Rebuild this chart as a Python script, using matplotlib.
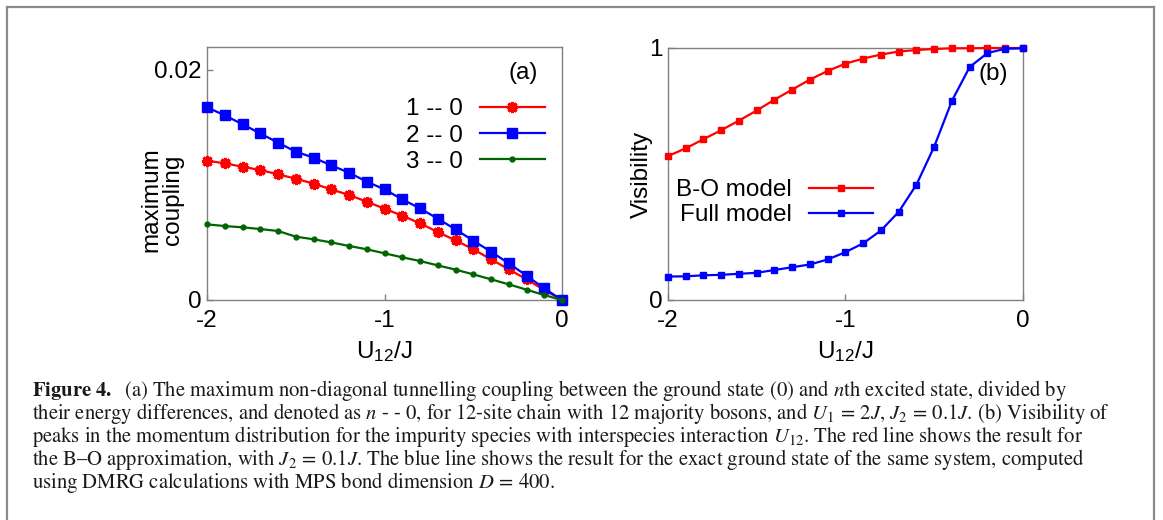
import matplotlib
matplotlib.use("Agg")
import matplotlib.pyplot as plt
import numpy as np
from matplotlib.lines import Line2D

plt.rcParams["font.family"] = ["Liberation Sans", "DejaVu Sans"]
plt.rcParams["mathtext.fontset"] = "custom"
plt.rcParams["mathtext.rm"] = "Liberation Sans"
plt.rcParams["mathtext.default"] = "regular"

# U12/J values (shared by both panels)
u12 = np.round(np.arange(-2.0, 0.01, 0.1), 2)

# panel (a): maximum coupling
coupling_10 = [0.01212, 0.01188, 0.01159, 0.01130, 0.01093, 0.01055, 0.01012,
               0.00962, 0.00913, 0.00855, 0.00794, 0.00733, 0.00667, 0.00591,
               0.00519, 0.00441, 0.00354, 0.00267, 0.00180, 0.00087, 0.0]
coupling_20 = [0.01675, 0.01606, 0.01528, 0.01449, 0.01368, 0.01290, 0.01238,
               0.01171, 0.01107, 0.01029, 0.00962, 0.00875, 0.00797, 0.00707,
               0.00614, 0.00516, 0.00420, 0.00319, 0.00212, 0.00101, 0.0]
coupling_30 = [0.00658, 0.00643, 0.00632, 0.00617, 0.00600, 0.00551, 0.00528,
               0.00501, 0.00470, 0.00441, 0.00406, 0.00371, 0.00339, 0.00301,
               0.00264, 0.00223, 0.00180, 0.00136, 0.00090, 0.00043, 0.0]

# panel (b): visibility
vis_bo = [0.571, 0.602, 0.638, 0.674, 0.712, 0.752, 0.795, 0.835, 0.875,
          0.909, 0.938, 0.958, 0.974, 0.986, 0.992, 0.996, 0.999, 0.999,
          1.0, 1.0, 1.0]
vis_full = [0.093, 0.094, 0.098, 0.100, 0.104, 0.108, 0.119, 0.130, 0.141,
            0.161, 0.190, 0.225, 0.276, 0.350, 0.458, 0.609, 0.791, 0.925,
            0.980, 0.997, 0.999]

caption = [
    r"$\mathbf{Figure\ 4.}$  (a) The maximum non-diagonal tunnelling coupling between the ground state (0) and $\mathit{n}$th excited state, divided by",
    r"their energy differences, and denoted as $\mathit{n}$ - - 0, for 12-site chain with 12 majority bosons, and $\mathit{U}_1\,=\,2\mathit{J}$, $\mathit{J}_2\,=\,0.1\mathit{J}$. (b) Visibility of",
    r"peaks in the momentum distribution for the impurity species with interspecies interaction $\mathit{U}_{12}$. The red line shows the result for",
    r"the B–O approximation, with $\mathit{J}_2\,=\,0.1\mathit{J}$. The blue line shows the result for the exact ground state of the same system, computed",
    r"using DMRG calculations with MPS bond dimension $\mathit{D}\,=\,400$.",
]

FS = 17.5
frame = "#808080"

fig = plt.figure(figsize=(11.63, 5.20), dpi=100)
ax1 = fig.add_axes([207 / 1163, 220 / 520, 355 / 1163, 253 / 520])
ax2 = fig.add_axes([668 / 1163, 220 / 520, 355 / 1163, 252 / 520])

for ax in (ax1, ax2):
    for sp in ax.spines.values():
        sp.set_color(frame)
        sp.set_linewidth(1.0)
    ax.tick_params(direction="in", length=4, width=1, color=frame,
                   labelsize=FS, top=False, right=False)
    ax.tick_params(axis="y", pad=4)
    ax.tick_params(axis="x", pad=7)
    ax.set_xlim(-2, 0)
    ax.set_xticks([-2, -1, 0])
    ax.set_xticklabels(["-2", "-1", "0"])
    ax.set_xlabel(r"U$_{12}$/J", fontsize=FS, labelpad=5)

# (a)
ax1.plot(u12, coupling_10, color="red", lw=1.6, marker=(8, 2, 0), ms=8,
         mew=2.2, label="1 -- 0", clip_on=False, zorder=3)
ax1.plot(u12, coupling_20, color="blue", lw=1.6, marker="s", ms=7,
         label="2 -- 0", clip_on=False, zorder=4)
ax1.plot(u12, coupling_30, color="#006400", lw=1.6, marker="o", ms=3.5,
         label="3 -- 0", clip_on=False, zorder=5)
ax1.set_ylim(0, 0.022)
ax1.set_yticks([0, 0.02])
ax1.set_yticklabels(["0", "0.02"])
ax1.set_ylabel("maximum\ncoupling", fontsize=FS, linespacing=0.95)
ax1.yaxis.set_label_coords(-0.065, 0.395)
ax1.text(0.89, 0.897, "(a)", transform=ax1.transAxes, fontsize=FS,
         ha="center", va="center")
ax1.legend(loc="upper right", bbox_to_anchor=(0.979, 0.836), frameon=False,
           markerfirst=False, fontsize=FS, handlelength=2.67,
           handletextpad=0.7, labelspacing=0.18, borderaxespad=0)

# (b)
ax2.plot(u12, vis_bo, color="red", lw=1.6, marker="s", ms=4.5,
         label="B-O model", clip_on=False, zorder=3)
ax2.plot(u12, vis_full, color="blue", lw=1.6, marker="s", ms=4.5,
         label="Full model", clip_on=False, zorder=4)
ax2.set_ylim(0, 1)
ax2.set_yticks([0, 1])
ax2.set_yticklabels(["0", "1"])
ax2.set_ylabel("Visibility", fontsize=FS)
ax2.yaxis.set_label_coords(-0.042, 0.5)
ax2.text(0.915, 0.897, "(b)", transform=ax2.transAxes, fontsize=FS,
         ha="center", va="center")
ax2.legend(loc="upper right", bbox_to_anchor=(0.606, 0.518), frameon=False,
           markerfirst=False, fontsize=FS, handlelength=2.67,
           handletextpad=0.7, labelspacing=0.12, borderaxespad=0)

# caption
for i, line in enumerate(caption):
    y = 1 - (396 + 23 * i) / 520
    fig.text(32 / 1163, y, line, fontsize=14.9, family="STIXGeneral",
             math_fontfamily="stix", ha="left", va="baseline", color="#1a1a1a")

# outer box
bx0, bx1, by = 7 / 1163, 1154 / 1163, 1 - 7 / 520
for xs, ys in (([bx0, bx1], [by, by]), ([bx0, bx0], [by, -0.1]),
               ([bx1, bx1], [by, -0.1])):
    fig.add_artist(Line2D(xs, ys, color="#8a8a8a", lw=1.6,
                          transform=fig.transFigure))

fig.savefig("out.png", dpi=100)
plt.close(fig)
